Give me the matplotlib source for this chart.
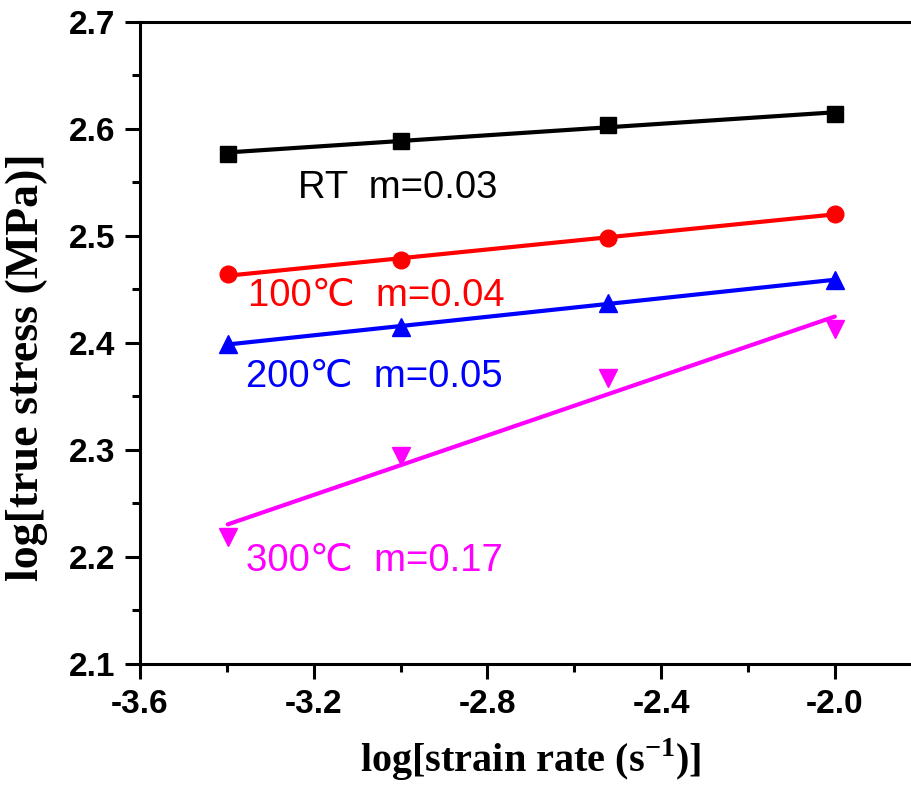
import numpy as np
import matplotlib
matplotlib.use("Agg")
import matplotlib.pyplot as plt
from matplotlib.ticker import MultipleLocator

# strain rates (s^-1) and measured log true stress for each temperature
strain_rate = [4e-4, 1e-3, 3e-3, 1e-2]
stress_rt = [2.577, 2.589, 2.604, 2.614]
stress_100 = [2.464, 2.478, 2.498, 2.521]
stress_200 = [2.399, 2.415, 2.437, 2.459]
stress_300 = [2.219, 2.294, 2.367, 2.413]

labels = ["RT  m=0.03", "100\u2103  m=0.04", "200\u2103  m=0.05", "300\u2103  m=0.17"]
label_pos = [(-3.236, 2.545), (-3.351, 2.444), (-3.356, 2.368), (-3.356, 2.196)]

colors = ["black", "#ff0000", "#0000ff", "#ff00ff"]
markers = ["s", "o", "^", "v"]
msizes = [11, 12, 13, 13]

plt.rcParams["mathtext.fontset"] = "custom"
plt.rcParams["mathtext.rm"] = "Liberation Serif"
plt.rcParams["mathtext.bf"] = "Liberation Serif:bold"

log_rate = np.log10(strain_rate)

fig = plt.figure(figsize=(9.11, 7.90), dpi=100)
ax = fig.add_axes([0.1537, 0.1595, 0.858, 0.8127])

for ys, c, mk, ms in zip([stress_rt, stress_100, stress_200, stress_300], colors, markers, msizes):
    ys = np.array(ys)
    k, b = np.polyfit(log_rate, ys, 1)
    xfit = np.array([log_rate[0], log_rate[-1]])
    ax.plot(xfit, k * xfit + b, color=c, lw=3.0, solid_capstyle="round", zorder=2)
    ax.plot(log_rate, ys, ls="none", marker=mk, ms=ms, color=c, zorder=3)

text_font = ["Liberation Sans", "DejaVu Sans", "Noto Sans CJK SC"]
for (tx, ty), s, c in zip(label_pos, labels, colors):
    ax.text(tx, ty, s, color=c, fontsize=27.5, family=text_font, ha="left", va="center")

ax.set_xlim(-3.6, -1.8)
ax.set_ylim(2.1, 2.7)
ax.xaxis.set_major_locator(MultipleLocator(0.4))
ax.xaxis.set_minor_locator(MultipleLocator(0.2))
ax.yaxis.set_major_locator(MultipleLocator(0.1))
ax.yaxis.set_minor_locator(MultipleLocator(0.05))
ax.set_xticks([-3.6, -3.2, -2.8, -2.4, -2.0])
ax.set_xticklabels(["-3.6", "-3.2", "-2.8", "-2.4", "-2.0"])

for sp in ax.spines.values():
    sp.set_linewidth(2.2)
ax.spines["right"].set_visible(False)

ax.tick_params(which="major", direction="out", length=11, width=2.2)
ax.tick_params(axis="x", which="major", pad=7)
ax.tick_params(axis="y", which="major", pad=7)
ax.tick_params(which="minor", direction="out", length=6, width=2.2)
ax.tick_params(top=False, right=False, which="both")

for lab in ax.get_xticklabels() + ax.get_yticklabels():
    lab.set_fontfamily("Liberation Sans")
    lab.set_fontweight("bold")
    lab.set_fontsize(24)

ax.set_xlabel("log[strain rate (s$^{\\mathbf{-1}}$)]", fontsize=29, fontweight="bold",
              family="Liberation Serif", va="top")
ax.xaxis.set_label_coords(0.5, -0.112)
ax.set_ylabel("log[true stress (MPa)]", fontsize=33, fontweight="bold",
              family="Liberation Serif", va="center")
ax.yaxis.set_label_coords(-0.145, 0.4626)

fig.savefig("out.png", dpi=100)
